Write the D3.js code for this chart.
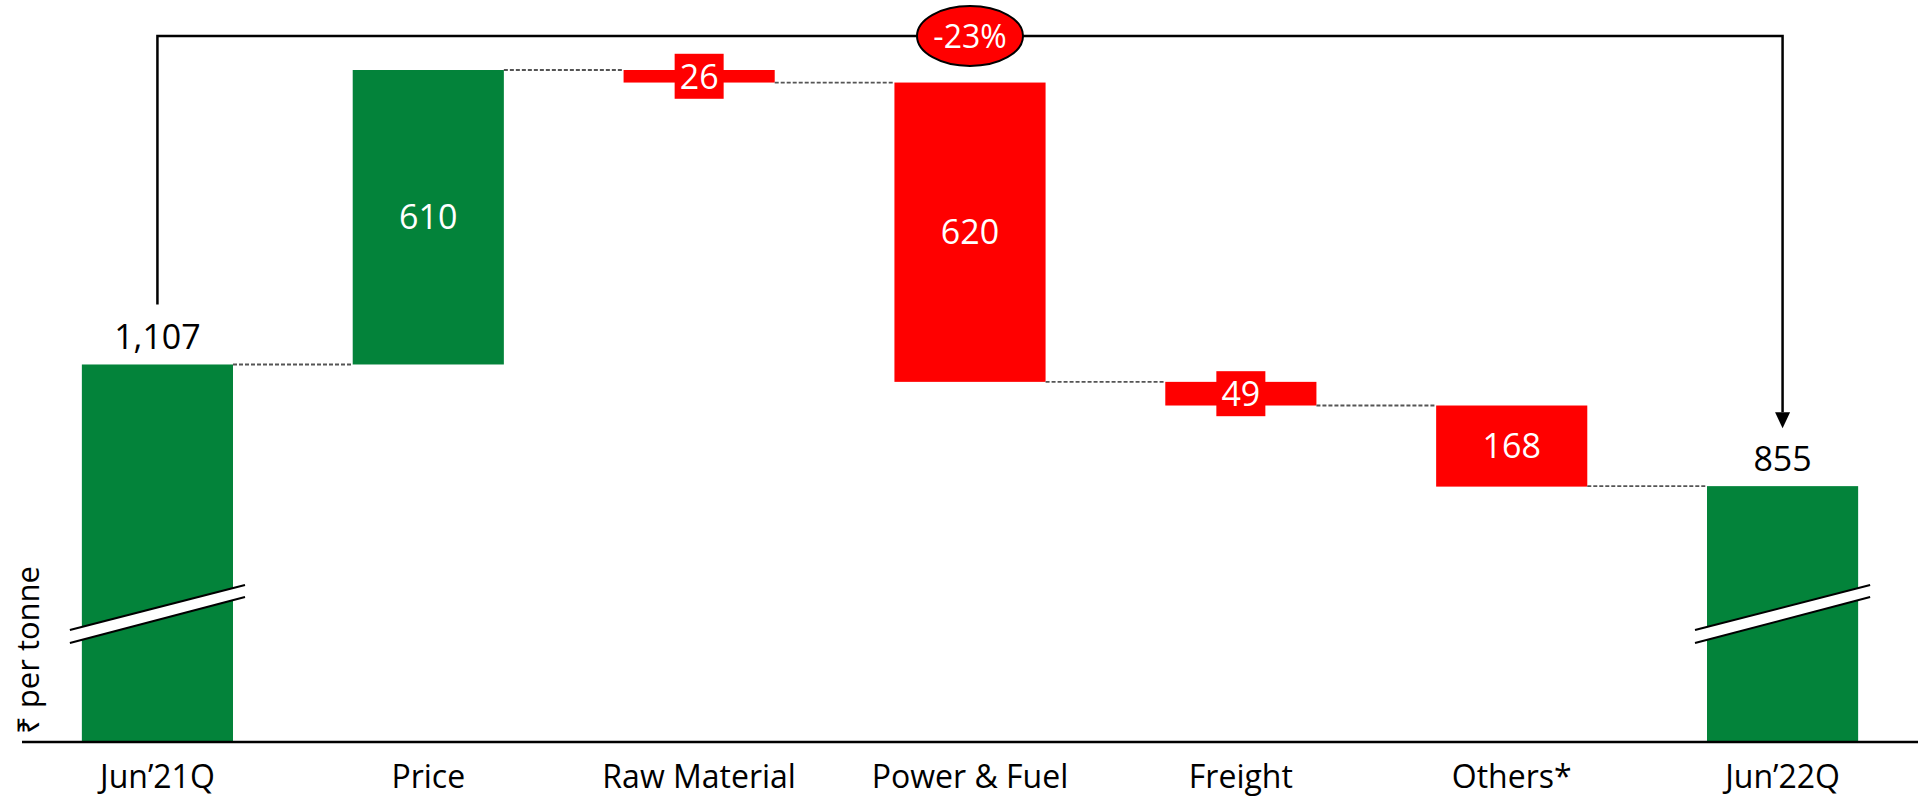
<!DOCTYPE html>
<html>
<head>
<meta charset="utf-8">
<script src="https://cdn.jsdelivr.net/npm/d3@7"></script>
<style>
body { margin: 0; background: #fff; }
text { font-family: "Open Sans", "Noto Sans", sans-serif; }
</style>
</head>
<body>
<script>
// chart data
var categories = ["Jun’21Q", "Price", "Raw Material", "Power & Fuel", "Freight", "Others*", "Jun’22Q"];
var values = [1107, 610, -26, -620, -49, -168, 855];
var kinds = ["total", "delta", "delta", "delta", "delta", "delta", "total"];
var changeLabel = "-23%";
var yTitle = "₹ per tonne";

var width = 1925,
    height = 797;

var green = "#03833a",
    red = "#ff0000";

var svg = d3.select("body")
    .append("svg")
    .attr("width", width)
    .attr("height", height);

// build waterfall rows (start/end of each bar)
var rows = [];
var running = 0;
categories.forEach(function(c, i){
    var v = values[i];
    var row = {name: c, value: v, kind: kinds[i]};
    if (kinds[i] == "total"){
        row.start = null; // drawn down to the axis
        row.end = v;
        running = v;
    } else {
        row.start = running;
        row.end = running + v;
        running = row.end;
    }
    rows.push(row);
});

var x = d3.scaleBand()
    .domain(categories)
    .range([22, 1918])
    .paddingInner(0.442)
    .paddingOuter(0.221);

// axis is broken, so the scale does not start at zero
var y = d3.scaleLinear()
    .domain([325, 1717])
    .range([742, 70]);

var baseY = y.range()[0];

// bars
svg.selectAll(".bar")
    .data(rows)
    .enter()
    .append("rect")
    .attr("class", "bar")
    .attr("x", function(d){ return x(d.name); })
    .attr("width", x.bandwidth())
    .attr("y", function(d){
        if (d.kind == "total") return y(d.end);
        return y(Math.max(d.start, d.end));
    })
    .attr("height", function(d){
        if (d.kind == "total") return baseY - y(d.end);
        return Math.abs(y(d.start) - y(d.end));
    })
    .attr("fill", function(d){
        return (d.kind == "total" || d.value > 0) ? green : red;
    });

// dashed connectors between bars
for (var i = 0; i < rows.length - 1; i++){
    var lvl = rows[i + 1].kind == "total" ? rows[i + 1].end : rows[i].end;
    svg.append("line")
        .attr("x1", x(rows[i].name) + x.bandwidth())
        .attr("x2", x(rows[i + 1].name))
        .attr("y1", y(lvl))
        .attr("y2", y(lvl))
        .attr("stroke", "#555")
        .attr("stroke-width", 1.8)
        .attr("stroke-dasharray", "4,2");
}

// break marks on the total bars
rows.filter(function(d){ return d.kind == "total"; }).forEach(function(d){
    var x0 = x(d.name) - 12,
        x1 = x(d.name) + x.bandwidth() + 12;
    svg.append("path")
        .attr("d", "M" + x0 + ",630 L" + x1 + ",585 L" + x1 + ",597 L" + x0 + ",643 Z")
        .attr("fill", "#fff");
    svg.append("line")
        .attr("x1", x0).attr("y1", 630).attr("x2", x1).attr("y2", 585)
        .attr("stroke", "#000").attr("stroke-width", 2);
    svg.append("line")
        .attr("x1", x0).attr("y1", 643).attr("x2", x1).attr("y2", 597)
        .attr("stroke", "#000").attr("stroke-width", 2);
});

// x axis line
svg.append("line")
    .attr("x1", 22)
    .attr("x2", 1918)
    .attr("y1", baseY)
    .attr("y2", baseY)
    .attr("stroke", "#000")
    .attr("stroke-width", 2.5);

// category labels
svg.selectAll(".cat")
    .data(categories)
    .enter()
    .append("text")
    .attr("class", "cat")
    .attr("x", function(d){ return x(d) + x.bandwidth() / 2; })
    .attr("y", 788)
    .attr("text-anchor", "middle")
    .attr("font-size", 32)
    .attr("fill", "#000")
    .text(function(d){ return d; });

// value labels
var fmt = d3.format(",");
rows.forEach(function(d){
    var cx = x(d.name) + x.bandwidth() / 2;
    if (d.kind == "total"){
        svg.append("text")
            .attr("x", cx)
            .attr("y", y(d.end) - 15)
            .attr("text-anchor", "middle")
            .attr("font-size", 34)
            .attr("fill", "#000")
            .text(fmt(d.end));
    } else {
        var cy = (y(d.start) + y(d.end)) / 2;
        var h = Math.abs(y(d.start) - y(d.end));
        if (h < 40){
            // small bar: label sits in its own red box
            svg.append("rect")
                .attr("x", cx - 24.5)
                .attr("y", cy - 22.5)
                .attr("width", 49)
                .attr("height", 45)
                .attr("fill", red);
        }
        svg.append("text")
            .attr("x", cx)
            .attr("y", cy)
            .attr("dy", "0.36em")
            .attr("text-anchor", "middle")
            .attr("font-size", 34)
            .attr("fill", "#fff")
            .text(fmt(Math.abs(d.value)));
    }
});

// bracket from first total to last total
var first = rows[0], last = rows[rows.length - 1];
var bx0 = x(first.name) + x.bandwidth() / 2,
    bx1 = x(last.name) + x.bandwidth() / 2,
    by = 36;
svg.append("path")
    .attr("d", "M" + bx0 + "," + (y(first.end) - 60) + " L" + bx0 + "," + by +
        " L" + bx1 + "," + by + " L" + bx1 + "," + (y(last.end) - 74))
    .attr("fill", "none")
    .attr("stroke", "#000")
    .attr("stroke-width", 2.5);
var tipY = y(last.end) - 58;
svg.append("path")
    .attr("d", "M" + (bx1 - 7.5) + "," + (tipY - 16) + " L" + (bx1 + 7.5) + "," + (tipY - 16) + " L" + bx1 + "," + tipY + " Z")
    .attr("fill", "#000");

// change bubble
var mx = (bx0 + bx1) / 2;
svg.append("ellipse")
    .attr("cx", mx)
    .attr("cy", by)
    .attr("rx", 53)
    .attr("ry", 30)
    .attr("fill", red)
    .attr("stroke", "#000")
    .attr("stroke-width", 2);
svg.append("text")
    .attr("x", mx)
    .attr("y", by)
    .attr("dy", "0.36em")
    .attr("text-anchor", "middle")
    .attr("font-size", 32)
    .attr("fill", "#fff")
    .text(changeLabel);

// y title
svg.append("text")
    .attr("transform", "translate(39,734) rotate(-90)")
    .attr("text-anchor", "start")
    .attr("font-family", "'Noto Sans', 'DejaVu Sans', sans-serif")
    .attr("font-size", 31)
    .attr("fill", "#000")
    .text(yTitle);
</script>
</body>
</html>
